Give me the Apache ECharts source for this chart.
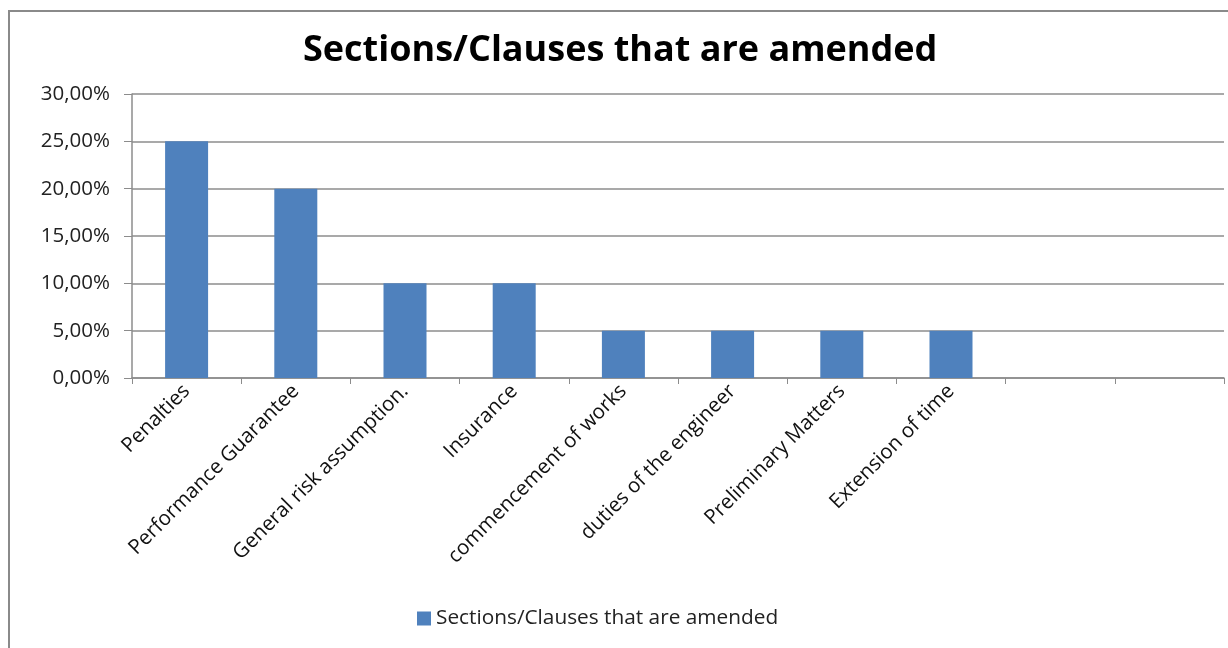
<!DOCTYPE html>
<html>
<head>
<meta charset="utf-8">
<script src="https://cdn.jsdelivr.net/npm/echarts@6/dist/echarts.min.js"></script>
<style>
  html, body { margin: 0; padding: 0; background: #ffffff; }
  #chart { width: 1228px; height: 648px; }
</style>
</head>
<body>
<div id="chart"></div>
<script>
// Amended contract sections and the share of contracts in which each was changed
const categories = [
  'Penalties',
  'Performance Guarantee',
  'General risk assumption.',
  'Insurance',
  'commencement of works',
  'duties of the engineer',
  'Preliminary Matters',
  'Extension of time',
  '',
  ''
];
const amendedShare = [0.25, 0.20, 0.10, 0.10, 0.05, 0.05, 0.05, 0.05, null, null];
const seriesName = 'Sections/Clauses that are amended';
const chartTitle = 'Sections/Clauses that are amended';

const font = '"Open Sans", "Noto Sans", sans-serif';
const pct = v => (v * 100).toFixed(2).replace('.', ',') + '%';

const chart = echarts.init(document.getElementById('chart'), null, { renderer: 'canvas' });
chart.setOption({
  animation: false,
  backgroundColor: '#ffffff',
  title: {
    text: chartTitle,
    left: 298,
    top: 28,
    textStyle: { fontFamily: font, fontSize: 36, fontWeight: 'bold', color: '#000000' }
  },
  legend: {
    data: [seriesName],
    top: 603,
    left: 412,
    itemWidth: 14,
    itemHeight: 14,
    icon: 'rect',
    itemGap: 6,
    textStyle: { fontFamily: font, fontSize: 20.8, color: '#222222' }
  },
  grid: { left: 132, right: 4, top: 94, bottom: 270, containLabel: false },
  xAxis: {
    type: 'category',
    data: categories,
    axisLine: { show: true, lineStyle: { color: '#8c8c8c', width: 1.5 } },
    axisTick: { show: true, interval: 0, length: 6, lineStyle: { color: '#8c8c8c' } },
    axisLabel: {
      interval: 0,
      rotate: 45,
      margin: 10,
      fontFamily: font,
      fontSize: 20.5,
      color: '#111111'
    }
  },
  yAxis: {
    type: 'value',
    min: 0,
    max: 0.3,
    interval: 0.05,
    axisLine: { show: true, lineStyle: { color: '#8c8c8c', width: 1.5 } },
    axisTick: { show: true, length: 8, lineStyle: { color: '#8c8c8c' } },
    splitLine: { show: true, lineStyle: { color: '#8c8c8c', width: 1.5 } },
    axisLabel: {
      formatter: pct,
      margin: 22,
      fontFamily: font,
      fontSize: 20.5,
      color: '#222222'
    }
  },
  series: [{
    name: seriesName,
    type: 'bar',
    data: amendedShare,
    barWidth: 43,
    itemStyle: { color: '#4f81bd' }
  }],
  graphic: [{
    type: 'polyline',
    silent: true,
    shape: { points: [[9, 660], [9, 11], [1240, 11]] },
    style: { stroke: '#8a8a8a', lineWidth: 2, fill: null }
  }]
});
</script>
</body>
</html>
